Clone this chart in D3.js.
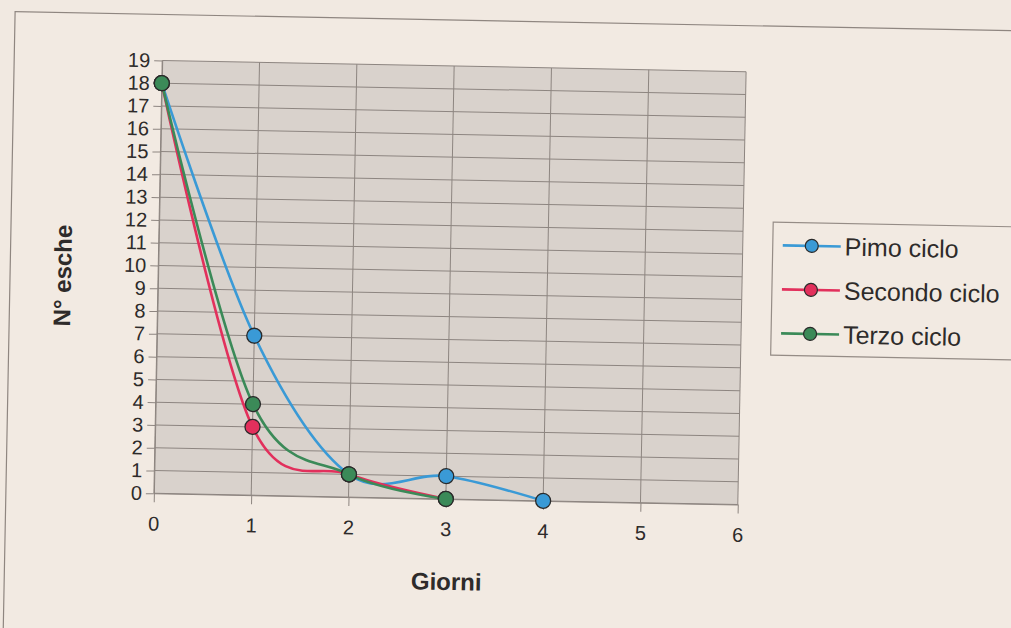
<!DOCTYPE html>
<html lang="it">
<head>
<meta charset="UTF-8">
<title>N° esche per giorno</title>
<style>
  body { margin: 0; background: #f1e9e1; }
  svg { display: block; }
  svg text { font-family: 'Liberation Sans', Arial, sans-serif; }
</style>
</head>
<body>
<svg id="chart" width="1011" height="628"></svg>
<script src="https://cdn.jsdelivr.net/npm/d3@7"></script>
<script>
// data
const days = [0, 1, 2, 3, 4];
const primoCiclo = [18, 7, 1, 1, 0];
const secondoCiclo = [18, 3, 1, 0];
const terzoCiclo = [18, 4, 1, 0];
const seriesNames = ['Pimo ciclo', 'Secondo ciclo', 'Terzo ciclo'];
const seriesColors = ['#3a9ad6', '#e2305c', '#3b8a58'];
const xTicks = [0, 1, 2, 3, 4, 5, 6];
const yTicks = d3.range(0, 20);

const series = [primoCiclo, secondoCiclo, terzoCiclo].map((vals, i) => ({
    name: seriesNames[i],
    color: seriesColors[i],
    points: vals.map((v, j) => ({ x: days[j], y: v }))
}));

const svg = d3.select('#chart');
// the photo is slightly tilted, so the whole sheet is turned a little
const root = svg.append('g').attr('transform', 'rotate(1.1, 450, 282)');

const plot = { left: 158, right: 742, top: 66, bottom: 499 };
const x = d3.scaleLinear().domain([0, 6]).range([plot.left, plot.right]);
const y = d3.scaleLinear().domain([0, 19]).range([plot.bottom, plot.top]);

// outer frame of the chart
root.append('rect')
    .attr('x', 10).attr('y', 20).attr('width', 1040).attr('height', 620)
    .attr('fill', '#f2eae2').attr('stroke', '#8f8680').attr('stroke-width', 1.2);

// plot area background
root.append('rect')
    .attr('x', plot.left).attr('y', plot.top)
    .attr('width', plot.right - plot.left).attr('height', plot.bottom - plot.top)
    .attr('fill', '#d9d2cc');

const gridColor = '#8d8580';
const textColor = '#2e2b2a';

// horizontal grid + y axis
const yAxis = d3.axisLeft(y).tickValues(yTicks).tickSize(8).tickPadding(4)
    .tickSizeOuter(0).tickFormat(d3.format('d'));
const gy = root.append('g').attr('transform', `translate(${plot.left},0)`).call(yAxis);
gy.attr('font-family', null).attr('font-size', null);
gy.select('.domain').attr('stroke', gridColor);
gy.selectAll('.tick line').attr('stroke', gridColor);
gy.selectAll('.tick text').attr('font-size', 20).attr('fill', textColor);

root.append('g').selectAll('line').data(yTicks).join('line')
    .attr('x1', plot.left).attr('x2', plot.right)
    .attr('y1', d => y(d)).attr('y2', d => y(d))
    .attr('stroke', gridColor).attr('stroke-width', 1);

// vertical grid + x axis
const xAxis = d3.axisBottom(x).tickValues(xTicks).tickSize(9).tickPadding(14)
    .tickSizeOuter(0).tickFormat(d3.format('d'));
const gx = root.append('g').attr('transform', `translate(0,${plot.bottom})`).call(xAxis);
gx.attr('font-family', null).attr('font-size', null);
gx.select('.domain').attr('stroke', gridColor);
gx.selectAll('.tick line').attr('stroke', gridColor);
gx.selectAll('.tick text').attr('font-size', 20).attr('fill', textColor);

root.append('g').selectAll('line').data(xTicks).join('line')
    .attr('x1', d => x(d)).attr('x2', d => x(d))
    .attr('y1', plot.top).attr('y2', plot.bottom)
    .attr('stroke', gridColor).attr('stroke-width', 1);

// axis titles
root.append('text')
    .attr('x', 452).attr('y', 590)
    .attr('text-anchor', 'middle')
    .attr('font-size', 24).attr('font-weight', 'bold').attr('fill', textColor)
    .text('Giorni');

root.append('text')
    .attr('transform', 'translate(71,283) rotate(-90)')
    .attr('text-anchor', 'middle')
    .attr('font-size', 24).attr('font-weight', 'bold').attr('fill', textColor)
    .text('N° esche');

// smoothed lines (uniform Catmull-Rom, like the spreadsheet smoothing)
const line = d3.line()
    .x(d => x(d.x)).y(d => y(d.y))
    .curve(d3.curveCatmullRom.alpha(0));

const lines = root.append('g');
series.forEach(s => {
    lines.append('path')
        .attr('d', line(s.points))
        .attr('fill', 'none')
        .attr('stroke', s.color)
        .attr('stroke-width', 2.6);
});

const markers = root.append('g');
series.forEach(s => {
    markers.selectAll(null).data(s.points).join('circle')
        .attr('cx', d => x(d.x)).attr('cy', d => y(d.y))
        .attr('r', 7.5)
        .attr('fill', s.color)
        .attr('stroke', '#2a2a2a').attr('stroke-width', 1.3);
});

// legend
const legend = root.append('g').attr('transform', 'translate(772,216)');
legend.append('rect')
    .attr('width', 260).attr('height', 133)
    .attr('fill', '#f2eae2').attr('stroke', '#958c86').attr('stroke-width', 1.2);

const item = legend.selectAll('g.item').data(series).join('g')
    .attr('class', 'item')
    .attr('transform', (d, i) => `translate(0,${23 + i * 44})`);
item.append('line')
    .attr('x1', 10).attr('x2', 68)
    .attr('stroke', d => d.color).attr('stroke-width', 2.6);
item.append('circle')
    .attr('cx', 39).attr('r', 6.5)
    .attr('fill', d => d.color)
    .attr('stroke', '#2a2a2a').attr('stroke-width', 1.2);
item.append('text')
    .attr('x', 72).attr('dy', '0.36em')
    .attr('font-size', 25).attr('fill', textColor)
    .text(d => d.name);
</script>
</body>
</html>
